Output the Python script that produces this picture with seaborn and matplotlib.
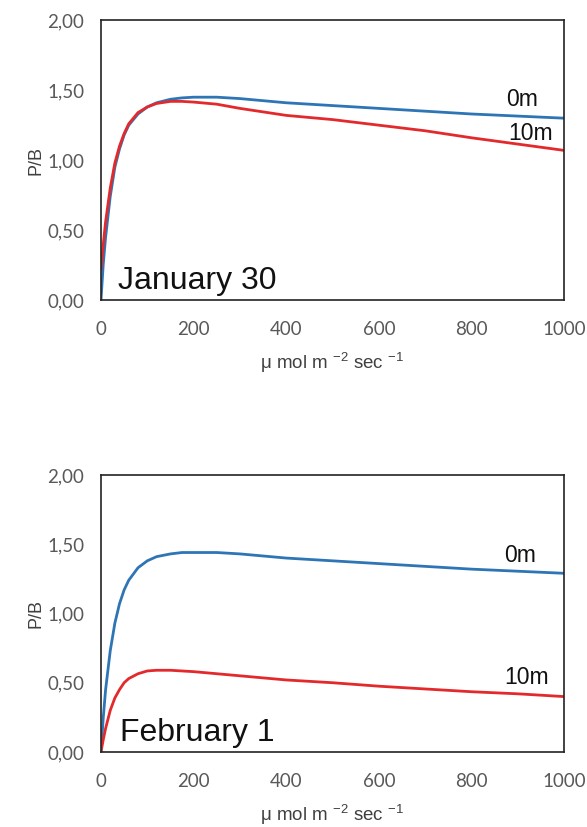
import matplotlib
matplotlib.use("Agg")
import matplotlib.pyplot as plt
import pandas as pd
import seaborn as sns

# light intensity (µmol m-2 s-1)
light = [0, 5, 10, 20, 30, 40, 50, 60, 80, 100, 120, 150, 175, 200, 250,
         300, 400, 500, 600, 700, 800, 900, 1000]

# January 30
jan_0m = [0.0, 0.26, 0.45, 0.74, 0.95, 1.08, 1.18, 1.25, 1.33, 1.38, 1.41,
          1.435, 1.445, 1.45, 1.45, 1.44, 1.41, 1.39, 1.37, 1.35, 1.33, 1.315, 1.30]
jan_10m = [0.22, 0.40, 0.56, 0.80, 0.98, 1.10, 1.19, 1.26, 1.34, 1.38, 1.405,
           1.42, 1.42, 1.415, 1.40, 1.37, 1.32, 1.29, 1.25, 1.21, 1.16, 1.115, 1.07]

# February 1
feb_0m = [0.0, 0.25, 0.45, 0.73, 0.93, 1.07, 1.17, 1.24, 1.33, 1.38, 1.41,
          1.43, 1.44, 1.44, 1.44, 1.43, 1.40, 1.38, 1.36, 1.34, 1.32, 1.305, 1.29]
feb_10m = [0.0, 0.09, 0.17, 0.30, 0.39, 0.45, 0.50, 0.53, 0.565, 0.585, 0.59,
           0.59, 0.585, 0.58, 0.565, 0.55, 0.52, 0.50, 0.475, 0.455, 0.435, 0.42, 0.40]

depths = ["0m", "10m"]
yticks = [0.0, 0.5, 1.0, 1.5, 2.0]
xticks = [0, 200, 400, 600, 800, 1000]

panels = [
    ("January 30", jan_0m, jan_10m, [(909, 1.43), (927, 1.19)]),
    ("February 1", feb_0m, feb_10m, [(905, 1.42), (920, 0.54)]),
]

sns.set_theme(style="white")
plt.rcParams["font.family"] = ["Liberation Sans", "DejaVu Sans"]

palette = {"0m": "#2e75b6", "10m": "#e3292b"}

fig = plt.figure(figsize=(5.87, 8.27), dpi=100)
positions = [[0.172, 0.637, 0.789, 0.3386], [0.172, 0.0907, 0.789, 0.335]]

for pos, (title, s0, s10, label_pos) in zip(positions, panels):
    ax = fig.add_axes(pos)
    df = pd.DataFrame({
        "light": light * 2,
        "pb": s0 + s10,
        "depth": ["0m"] * len(light) + ["10m"] * len(light),
    })
    sns.lineplot(data=df, x="light", y="pb", hue="depth", palette=palette,
                 linewidth=2.0, legend=False, ax=ax, sort=True)
    ax.set_xlim(0, 1000)
    ax.set_ylim(0, 2)
    ax.set_xticks(xticks)
    ax.set_yticks(yticks)
    ax.set_yticklabels([f"{v:.2f}".replace(".", ",") for v in yticks])
    ax.tick_params(length=0, labelsize=13.5, labelcolor="#595959")
    ax.tick_params(axis="y", pad=12)
    ax.tick_params(axis="x", pad=15)
    for lbl in ax.get_xticklabels() + ax.get_yticklabels():
        lbl.set_family(["Lato", "DejaVu Sans"])
    for sp in ax.spines.values():
        sp.set_color("#222222")
        sp.set_linewidth(1.2)
    ax.set_ylabel("P/B", fontsize=13, color="#404040", labelpad=2)
    ax.set_xlabel(r"μ mol m $^{\mathregular{-2}}$ sec $^{\mathregular{-1}}$",
                  fontsize=13.5, color="#404040", labelpad=9)
    ax.text(207, 0.14, title, fontsize=23, color="#111111",
            ha="center", va="center")
    for d, (lx, ly) in zip(depths, label_pos):
        ax.text(lx, ly, d, fontsize=16.5, color="#111111", ha="center", va="center")

fig.savefig("out.png", dpi=100)
